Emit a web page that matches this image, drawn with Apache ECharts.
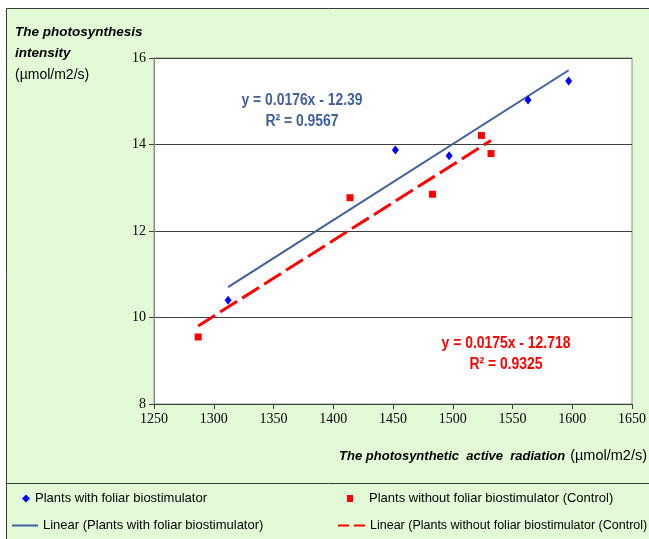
<!DOCTYPE html>
<html>
<head>
<meta charset="utf-8">
<script src="https://cdn.jsdelivr.net/npm/echarts@6/dist/echarts.min.js"></script>
<style>
  html, body { margin: 0; padding: 0; background: #ffffff; }
  #chart { width: 649px; height: 539px; }
</style>
</head>
<body>
<div id="chart"></div>
<script>
// Photosynthetic active radiation (x) vs photosynthesis intensity (y)
const parWith = [1312, 1452, 1497, 1563, 1597];
const intensityWith = [10.40, 13.87, 13.74, 15.03, 15.47];
const parControl = [1287, 1414, 1483, 1524, 1532];
const intensityControl = [9.55, 12.77, 12.85, 14.21, 13.79];

// Linear trend coefficients and fit quality
const fitWith = { slope: 0.0176, intercept: -12.39, r2: 0.9567 };
const fitControl = { slope: 0.0175, intercept: -12.718, r2: 0.9325 };

const xTicks = { min: 1250, max: 1650, step: 50 };
const yTicks = { min: 8, max: 16, step: 2 };

const nameWith = 'Plants with foliar biostimulator';
const nameControl = 'Plants without foliar biostimulator (Control)';
const nameLinWith = 'Linear (Plants with foliar biostimulator)';
const nameLinControl = 'Linear (Plants without foliar biostimulator (Control)';

function pairs(xs, ys) { return xs.map((x, i) => [x, ys[i]]); }
function trend(xs, fit) {
  const lo = Math.min(...xs), hi = Math.max(...xs);
  return [[lo, fit.slope * lo + fit.intercept], [hi, fit.slope * hi + fit.intercept]];
}
function eqText(fit) {
  const sign = fit.intercept < 0 ? ' - ' : ' + ';
  return 'y = ' + fit.slope + 'x' + sign + Math.abs(fit.intercept) + '\nR\u00b2 = ' + fit.r2;
}

const sans = '"Liberation Sans", Arial, sans-serif';
const serif = '"Liberation Serif", "Times New Roman", serif';

const chart = echarts.init(document.getElementById('chart'), null, { renderer: 'canvas' });

const legendBase = {
  selectedMode: false,
  orient: 'horizontal',
  padding: 0,
  symbolKeepAspect: true,
  textStyle: { fontFamily: sans, fontSize: 13, color: '#000000' },
  itemGap: 4
};

// condensed bold label for a trend equation
function eqLabel(fit, cx, y, color) {
  return {
    type: 'text', x: cx, y: y, scaleX: 0.87, z: 10,
    style: {
      text: eqText(fit), fill: color, align: 'center',
      font: 'bold 16px ' + sans, lineHeight: 21
    }
  };
}

chart.setOption({
  backgroundColor: '#ffffff',
  animation: false,
  graphic: [
    {
      type: 'rect', z: -10, silent: true,
      shape: { x: 6.5, y: 8.5, width: 700, height: 600 },
      style: { fill: '#e3fad6', stroke: '#3a3a3a', lineWidth: 1 }
    },
    {
      type: 'line', z: -9, silent: true,
      shape: { x1: 6.5, y1: 483.5, x2: 700, y2: 483.5 },
      style: { stroke: '#3a3a3a', lineWidth: 1 }
    },
    eqLabel(fitWith, 302, 90, '#3f5f9f'),
    eqLabel(fitControl, 506, 333, '#ff0000')
  ],
  title: [
    {
      left: 15, top: 22, padding: 0,
      text: '{b|The photosynthesis}\n{b|intensity}\n{n|(\u00b5mol/m2/s)}',
      textStyle: {
        fontWeight: 'normal',
        rich: {
          b: { fontFamily: sans, fontWeight: 'bold', fontStyle: 'italic', fontSize: 13.5, lineHeight: 21, color: '#000' },
          n: { fontFamily: sans, fontWeight: 'normal', fontSize: 14, lineHeight: 22, color: '#000' }
        }
      }
    },
    {
      right: 2, top: 447, padding: 0,
      text: '{b|The photosynthetic  active  radiation} {n|(\u00b5mol/m2/s)}',
      textStyle: {
        fontWeight: 'normal',
        rich: {
          b: { fontFamily: sans, fontWeight: 'bold', fontStyle: 'italic', fontSize: 13, color: '#000' },
          n: { fontFamily: sans, fontWeight: 'normal', fontSize: 14.5, color: '#000' }
        }
      }
    }
  ],
  legend: [
    Object.assign({}, legendBase, { left: 22, top: 492, data: [nameWith], itemWidth: 8, itemHeight: 8 }),
    Object.assign({}, legendBase, {
      left: 347, top: 492, itemWidth: 28, itemHeight: 7,
      data: [{ name: nameControl, icon: 'path://M0,0h6v7h-6z' }]
    }),
    Object.assign({}, legendBase, {
      left: 11, top: 519, itemWidth: 26, itemHeight: 10,
      data: [{ name: nameLinWith, itemStyle: { opacity: 0 } }]
    }),
    Object.assign({}, legendBase, {
      left: 337, top: 519, itemWidth: 27, itemHeight: 10,
      textStyle: { fontFamily: sans, fontSize: 12.5, color: '#000000' },
      data: [{ name: nameLinControl, itemStyle: { opacity: 0 }, lineStyle: { type: [11, 5] } }]
    })
  ],
  grid: {
    left: 154, top: 58, right: 16, bottom: 135,
    show: true, backgroundColor: '#ffffff', borderColor: '#8c8c8c', borderWidth: 1
  },
  xAxis: {
    type: 'value', min: xTicks.min, max: xTicks.max, interval: xTicks.step,
    axisLine: { show: true, onZero: false, lineStyle: { color: '#404040', width: 1 } },
    axisTick: { show: true, length: 5, lineStyle: { color: '#404040' } },
    axisLabel: { fontFamily: serif, fontSize: 14, color: '#000', margin: 8, formatter: v => String(v) },
    splitLine: { show: false }
  },
  yAxis: {
    type: 'value', min: yTicks.min, max: yTicks.max, interval: yTicks.step,
    axisLine: { show: true, onZero: false, lineStyle: { color: '#8c8c8c', width: 1 } },
    axisTick: { show: true, length: 5, lineStyle: { color: '#404040' } },
    axisLabel: { fontFamily: serif, fontSize: 14, color: '#000', margin: 8, formatter: v => String(v) },
    splitLine: { show: true, lineStyle: { color: '#404040', width: 1 } }
  },
  series: [
    {
      name: nameLinWith, type: 'line', data: trend(parWith, fitWith),
      symbol: 'none', z: 3,
      lineStyle: { color: '#3f5f9f', width: 2 },
      itemStyle: { color: '#3f5f9f' }
    },
    {
      name: nameLinControl, type: 'line', data: trend(parControl, fitControl),
      symbol: 'none', z: 3,
      lineStyle: { color: '#ff0000', width: 3, type: [20, 6] },
      itemStyle: { color: '#ff0000' }
    },
    {
      name: nameWith, type: 'scatter', data: pairs(parWith, intensityWith),
      symbol: 'diamond', symbolSize: [7, 9], z: 4,
      itemStyle: { color: '#0000ff', opacity: 1 }
    },
    {
      name: nameControl, type: 'scatter', data: pairs(parControl, intensityControl),
      symbol: 'rect', symbolSize: 7, z: 4,
      itemStyle: { color: '#ff0000', opacity: 1 }
    }
  ]
});
</script>
</body>
</html>
